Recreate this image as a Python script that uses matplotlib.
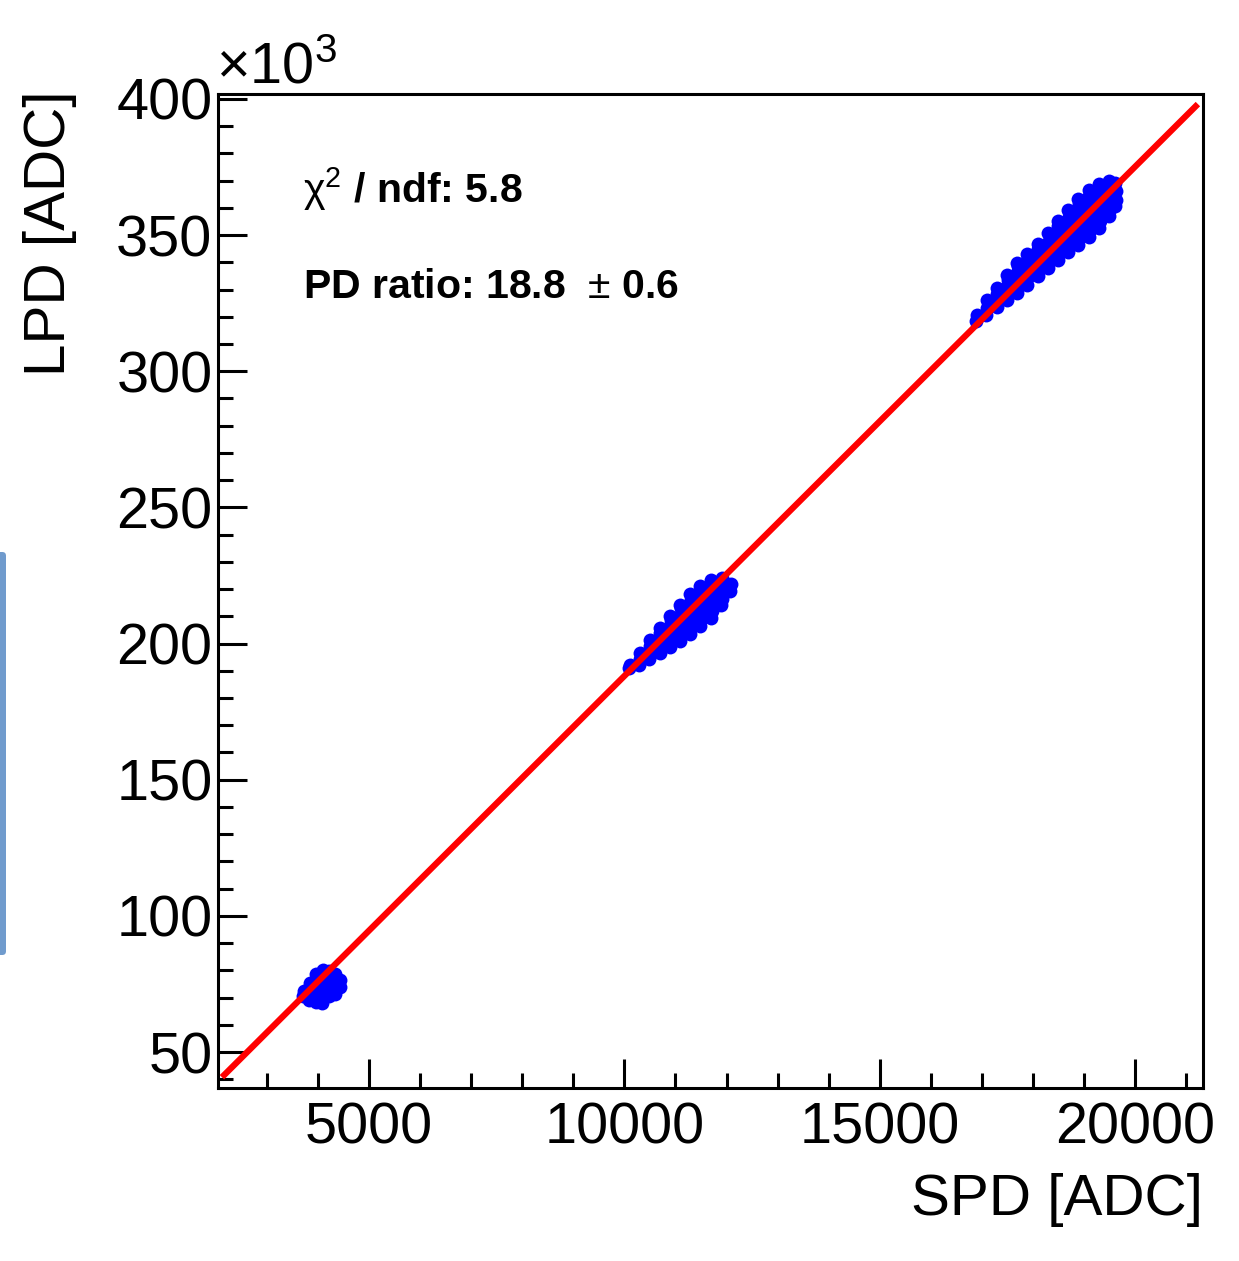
import matplotlib
matplotlib.use("Agg")
import numpy as np
import matplotlib.pyplot as plt
from matplotlib.ticker import MultipleLocator
from matplotlib.patches import FancyBboxPatch

plt.rcParams["font.family"] = ["Liberation Sans", "DejaVu Sans"]
plt.rcParams["mathtext.fontset"] = "custom"
plt.rcParams["mathtext.rm"] = "Liberation Sans"
plt.rcParams["mathtext.it"] = "Liberation Sans:italic"
plt.rcParams["mathtext.bf"] = "Liberation Sans:bold"

# SPD [ADC] and LPD [10^3 ADC], three LED intensities
spd_low = [3710, 3725, 3830, 3845, 3850, 3835, 3960, 3975, 3970, 3980, 3965,
           4080, 4095, 4100, 4085, 4090, 4105, 4210, 4225, 4230, 4215, 4220,
           4330, 4345, 4350, 4335, 4425, 4435]
lpd_low = [70.5, 72.5, 69.2, 71.5, 74.0, 75.5, 68.5, 71.0, 73.5, 76.0, 78.5,
           68.0, 70.5, 73.0, 75.5, 78.0, 80.3, 70.5, 73.0, 75.5, 78.0, 79.8,
           71.5, 74.0, 76.5, 78.8, 74.0, 76.5]

spd_mid = [10090, 10110,
           10290, 10310, 10300,
           10490, 10510, 10500, 10495,
           10690, 10710, 10700, 10705, 10695,
           10890, 10910, 10900, 10895, 10905, 10900,
           11090, 11110, 11100, 11095, 11105, 11100, 11090,
           11290, 11310, 11300, 11295, 11305, 11300, 11290,
           11490, 11510, 11500, 11495, 11505, 11500, 11490,
           11690, 11710, 11700, 11695, 11705, 11700, 11690,
           11890, 11910, 11900, 11895, 11905,
           12060, 12080]
lpd_mid = [191.0, 192.3,
           192.2, 194.5, 196.7,
           194.2, 196.6, 199.0, 201.2,
           196.4, 199.0, 201.5, 203.8, 205.7,
           198.8, 201.3, 203.8, 206.3, 208.5, 210.1,
           201.1, 203.6, 206.1, 208.6, 211.0, 213.0, 214.2,
           203.5, 206.0, 208.5, 211.0, 213.5, 216.0, 218.3,
           206.4, 209.0, 211.5, 214.0, 216.5, 219.0, 221.2,
           209.4, 212.0, 214.5, 217.0, 219.5, 221.5, 223.3,
           214.0, 216.5, 219.0, 221.5, 224.0,
           219.4, 221.8]

spd_high = [16890, 16910,
            17090, 17110, 17100,
            17290, 17310, 17300, 17295,
            17490, 17510, 17500, 17505, 17495,
            17690, 17710, 17700, 17695, 17705, 17690,
            17890, 17910, 17900, 17895, 17905, 17890,
            18090, 18110, 18100, 18095, 18105, 18090,
            18290, 18310, 18300, 18295, 18305, 18290,
            18490, 18510, 18500, 18495, 18505, 18500, 18490,
            18690, 18710, 18700, 18695, 18705, 18700, 18690,
            18890, 18910, 18900, 18895, 18905, 18900, 18895, 18890,
            19090, 19110, 19100, 19095, 19105, 19100, 19095, 19090,
            19290, 19310, 19300, 19295, 19305, 19300, 19295, 19290,
            19490, 19510, 19500, 19495, 19505, 19490,
            19610, 19630, 19625, 19615]
lpd_high = [318.5, 320.5,
            320.8, 323.4, 326.0,
            323.5, 326.0, 328.5, 330.5,
            326.0, 328.5, 331.0, 333.5, 335.4,
            328.6, 331.0, 333.5, 336.0, 338.5, 339.8,
            331.8, 334.5, 337.0, 339.5, 342.0, 343.1,
            334.8, 337.5, 340.0, 342.5, 345.0, 346.7,
            338.0, 340.5, 343.0, 345.5, 348.0, 350.8,
            340.8, 343.5, 346.0, 348.5, 351.0, 353.5, 355.1,
            343.8, 346.5, 349.0, 351.5, 354.0, 356.5, 359.3,
            346.3, 349.0, 351.5, 354.0, 356.5, 359.0, 361.5, 363.4,
            349.3, 352.0, 354.5, 357.0, 359.5, 362.0, 364.5, 366.5,
            352.5, 355.0, 357.5, 360.0, 362.5, 365.0, 367.0, 368.6,
            357.0, 359.5, 362.0, 364.5, 367.0, 370.0,
            360.5, 363.0, 366.0, 369.0]

# linear fit LPD = slope * SPD + offset
fit_slope = 18.7
fit_offset = 1100
fit_range = [2120, 21230]

chi2_ndf = 5.8
pd_ratio = 18.8
pd_ratio_err = 0.6

W, H = 1239, 1261
fig = plt.figure(figsize=(W / 100, H / 100), dpi=100)
ax = fig.add_axes([218 / W, 173 / H, 985 / W, 994 / H])

spd = spd_low + spd_mid + spd_high
lpd = lpd_low + lpd_mid + lpd_high
ax.scatter(spd, lpd, s=100, color="blue", linewidths=0, zorder=2)

fx = np.array(fit_range, dtype=float)
ax.plot(fx, (fit_slope * fx + fit_offset) / 1000, color="red", lw=4.5, zorder=3,
        solid_capstyle="butt")

ax.set_xlim(2043, 21330)
ax.set_ylim(36.8, 401.8)
ax.xaxis.set_major_locator(MultipleLocator(5000))
ax.xaxis.set_minor_locator(MultipleLocator(1000))
ax.yaxis.set_major_locator(MultipleLocator(50))
ax.yaxis.set_minor_locator(MultipleLocator(10))
ax.tick_params(which="both", direction="in", top=False, right=False, width=2.2,
               labelsize=41.5, color="black")
ax.tick_params(which="major", length=21)
ax.tick_params(which="minor", length=11)
ax.tick_params(axis="x", pad=10)
ax.tick_params(axis="y", pad=4)
for s in ax.spines.values():
    s.set_linewidth(2.2)

fig.text(1203 / W, 1 - 1200 / H, "SPD [ADC]", ha="right", va="center", fontsize=42)
fig.text(50 / W, 1 - 90 / H, "LPD [ADC]", ha="center", va="top", rotation=90, fontsize=42)
fig.text(216 / W, 1 - 84 / H, "×10$^{3}$", ha="left", va="baseline", fontsize=41.5)

fig.text(303 / W, 1 - 203 / H, r"$\mathrm{\chi}^{2}$ / ndf: %.1f" % chi2_ndf,
         fontweight="bold", fontsize=29.5, ha="left", va="baseline")
fig.text(303 / W, 1 - 298 / H,
         r"PD ratio: %.1f  $\pm$ %.1f" % (pd_ratio, pd_ratio_err),
         fontweight="bold", fontsize=29.5, ha="left", va="baseline")

# side bar from the screenshot
fig.patches.append(FancyBboxPatch((-6 / W, 1 - 955 / H), 12 / W, 403 / H,
                                  boxstyle="round,pad=0,rounding_size=0.003",
                                  transform=fig.transFigure, facecolor="#709bcd",
                                  edgecolor="none", figure=fig))

fig.savefig("out.png", dpi=100)
